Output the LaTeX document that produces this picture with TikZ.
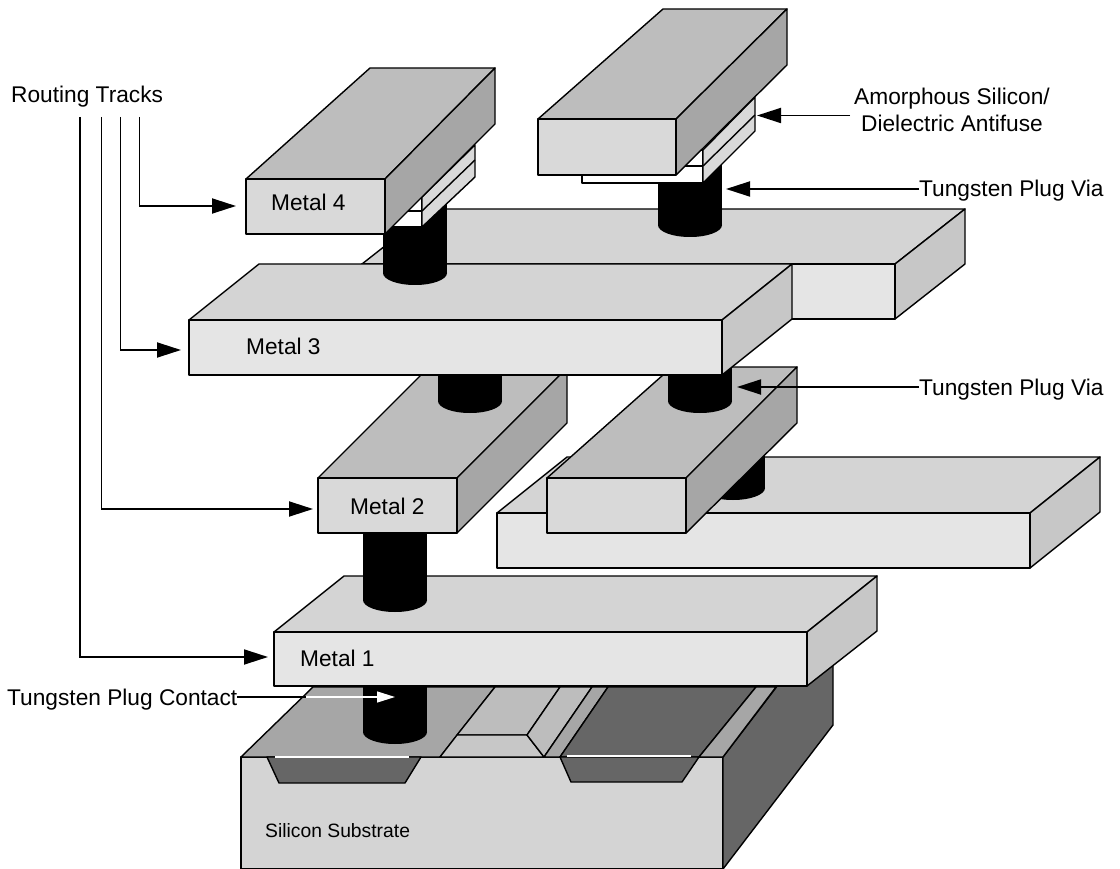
\documentclass[tikz,border=0pt]{standalone}
\usepackage{fontspec}
\setmainfont{Liberation Sans}
\usetikzlibrary{arrows.meta}
\definecolor{palefront}{gray}{0.90}
\definecolor{paletop}{gray}{0.83}
\definecolor{paleside}{gray}{0.78}
\definecolor{midfront}{gray}{0.85}
\definecolor{midtop}{gray}{0.74}
\definecolor{midside}{gray}{0.65}
\definecolor{darkfill}{gray}{0.40}
\tikzset{
  face/.style={draw=black, line width=1.4pt, line join=round, fill=#1},
  tracktext/.style={font=\fontsize{22.7}{27}\selectfont, inner sep=0pt, anchor=base west},
  track/.style={line width=1.8pt, -{Triangle[length=24pt,width=15pt]}},
  whitetrack/.style={white, line width=1.4pt, -{Triangle[length=18pt,width=11pt]}},
}
\newcommand{\tungsten}[3]{%
  \fill[black] (#1-32,#2) rectangle (#1+32,#3);
  \fill[black] (#1,#3) ellipse [x radius=32pt, y radius=12pt];
}
\begin{document}
\begin{tikzpicture}[x=1pt, y=-1pt]
  \useasboundingbox (0,0) rectangle (1120,869);

  \draw[face=paletop] (241,757) rectangle (723,869);
  \draw[face=darkfill] (723,757) -- (833,613) -- (833,725) -- (723,869) -- cycle;
  \draw[face=midside] (241,757) -- (313,687) -- (495,687) -- (440,757) -- cycle;
  \draw[face=midtop] (495,687) -- (560,687) -- (527,735) -- (457,735) -- cycle;
  \draw[face=paleside] (457,735) -- (527,735) -- (544,757) -- (440,757) -- cycle;
  \draw[face=midtop] (527,735) -- (560,687) -- (592,687) -- (544,757) -- cycle;
  \draw[face=midside] (544,757) -- (592,687) -- (608,687) -- (560,757) -- cycle;
  \draw[face=darkfill] (560,757) -- (608,687) -- (756,687) -- (699,757) -- cycle;
  \draw[face=midside] (699,757) -- (756,687) -- (776,687) -- (723,757) -- cycle;
  \draw[face=darkfill] (267,757) -- (421,757) -- (405,783) -- (279,783) -- cycle;
  \draw[face=darkfill] (560,757) -- (699,757) -- (682,782) -- (571,782) -- cycle;
  \draw[white, line width=1.4pt] (275,757) -- (409,757);
  \draw[white, line width=1.4pt] (567,756) -- (691,756);
  \tungsten{395}{680}{732}

  \draw[face=paletop] (274,632) -- (344,576) -- (877,576) -- (807,632) -- cycle;
  \draw[face=paleside] (807,632) -- (877,576) -- (877,631) -- (807,686) -- cycle;
  \draw[face=palefront] (274,632) rectangle (807,686);
  \tungsten{395}{530}{600}

  \draw[face=paletop] (497,513) -- (567,457) -- (1100,457) -- (1030,513) -- cycle;
  \draw[face=paleside] (1030,513) -- (1100,457) -- (1100,512) -- (1030,568) -- cycle;
  \draw[face=palefront] (497,513) rectangle (1030,568);
  \tungsten{733}{440}{488}

  \draw[face=midtop] (318,478) -- (428,368) -- (567,368) -- (457,478) -- cycle;
  \draw[face=midside] (457,478) -- (567,368) -- (567,423) -- (457,533) -- cycle;
  \draw[face=midfront] (318,478) rectangle (457,533);

  \draw[face=midtop] (547,478) -- (672,367) -- (797,367) -- (686,478) -- cycle;
  \draw[face=midside] (686,478) -- (797,367) -- (797,423) -- (686,533) -- cycle;
  \draw[face=midfront] (547,478) rectangle (686,533);

  \tungsten{470}{360}{401}
  \tungsten{700}{360}{401}

  \draw[face=paletop] (362,264) -- (432,209) -- (965,209) -- (895,264) -- cycle;
  \draw[face=paleside] (895,264) -- (965,209) -- (965,264) -- (895,319) -- cycle;
  \draw[face=palefront] (362,264) rectangle (895,319);
  \tungsten{690}{155}{225}

  \draw[face=white] (582,150) rectangle (703,183);
  \draw[face=white] (582,166) -- (703,166);
  \draw[face=midfront] (703,183) -- (755,131) -- (755,97) -- (703,150) -- cycle;
  \draw[face=midfront] (703,166) -- (755,115);

  \draw[face=midtop] (538,119) -- (663,9) -- (787,9) -- (676,119) -- cycle;
  \draw[face=midside] (676,119) -- (787,9) -- (787,65) -- (676,175) -- cycle;
  \draw[face=midfront] (538,119) rectangle (676,175);

  \draw[face=paletop] (189,320) -- (259,264) -- (792,264) -- (722,320) -- cycle;
  \draw[face=paleside] (722,320) -- (792,264) -- (792,319) -- (722,375) -- cycle;
  \draw[face=palefront] (189,320) rectangle (722,375);
  \tungsten{415}{195}{273}

  \draw[face=white] (301,197) rectangle (422,227);
  \draw[face=white] (301,211) -- (422,211);
  \draw[face=midfront] (422,227) -- (475,177) -- (475,145) -- (422,197) -- cycle;
  \draw[face=midfront] (422,211) -- (475,160);

  \draw[face=midtop] (246,179) -- (370,68) -- (495,68) -- (385,179) -- cycle;
  \draw[face=midside] (385,179) -- (495,68) -- (495,124) -- (385,234) -- cycle;
  \draw[face=midfront] (246,179) rectangle (385,234);

  \node[tracktext] (metalfour) at (271,211) {Metal 4};
  \node[tracktext] (metalthree) at (246,354) {Metal 3};
  \node[tracktext] (metaltwo) at (350,514) {Metal 2};
  \node[tracktext] (metalone) at (300,666) {Metal 1};
  \node[tracktext, font=\fontsize{19.3}{23}\selectfont] (silicon) at (265,837) {Silicon Substrate};
  \node[tracktext] (routing) at (11,103) {Routing Tracks};
  \node[tracktext, anchor=base, align=center] (antifuse) at (952,132) {Amorphous Silicon/\\Dielectric Antifuse};
  \node[tracktext] (upperplug) at (919,197) {Tungsten Plug Via};
  \node[tracktext] (lowerplug) at (919,395) {Tungsten Plug Via};
  \node[tracktext] (contact) at (7,705) {Tungsten Plug Contact};

  \coordinate (trackone) at (80,117);
  \coordinate (tracktwo) at (101.5,117);
  \coordinate (trackthree) at (120.5,117);
  \coordinate (trackfour) at (139.5,117);
  \coordinate (tipone) at (268,657);
  \coordinate (tiptwo) at (313,509);
  \coordinate (tipthree) at (181,350);
  \coordinate (tipfour) at (236,206);
  \draw[track] (trackone) |- (tipone);
  \draw[track] (tracktwo) |- (tiptwo);
  \draw[track] (trackthree) |- (tipthree);
  \draw[track] (trackfour) |- (tipfour);

  \coordinate (antifusestart) at (850,115.5);
  \coordinate (antifusetip) at (757,115.5);
  \coordinate (uppertip) at (726,189);
  \coordinate (lowertip) at (737,387);
  \coordinate (contactbend) at (306,697);
  \coordinate (contacttip) at (395,697);
  \draw[track] (antifusestart) -- (antifusetip);
  \draw[track] (uppertip -| upperplug.west) -- (uppertip);
  \draw[track] (lowertip -| lowerplug.west) -- (lowertip);
  \draw[line width=1.4pt] (contactbend -| contact.east) -- (contactbend);
  \draw[whitetrack] (contactbend) -- (contacttip);
\end{tikzpicture}
\end{document}
